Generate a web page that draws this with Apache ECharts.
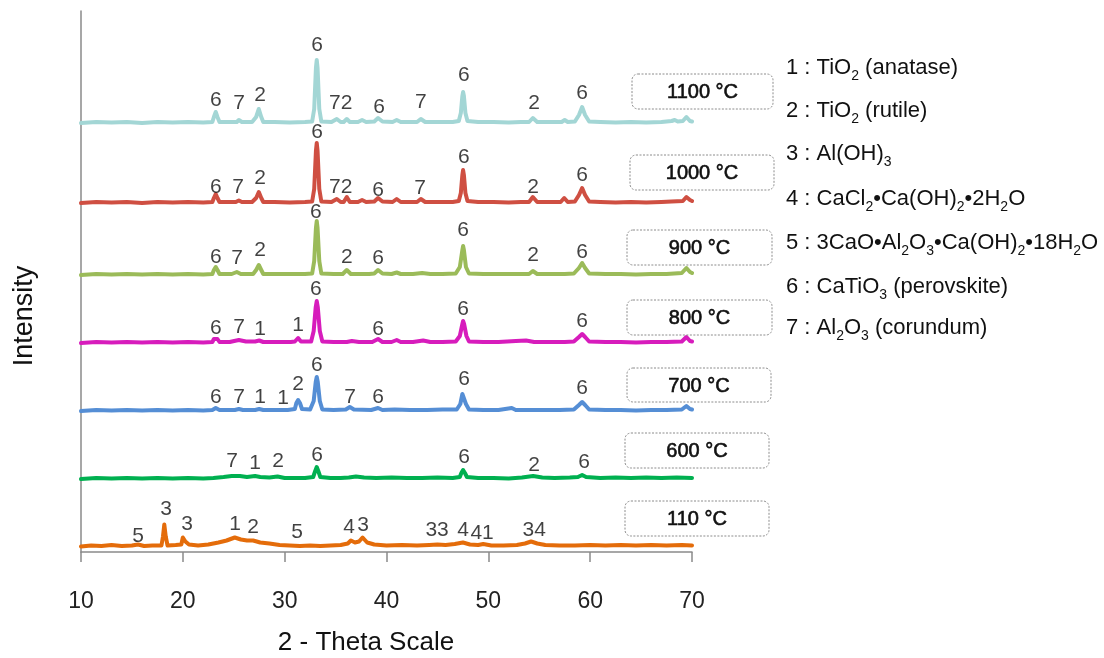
<!DOCTYPE html>
<html>
<head>
<meta charset="utf-8">
<script src="https://cdn.jsdelivr.net/npm/echarts@6/dist/echarts.min.js"></script>
<style>
html,body{margin:0;padding:0;background:#fff;}
#chart{width:1104px;height:658px;}
</style>
</head>
<body>
<div id="chart"></div>
<script>
// ---------- DATA ----------
const xTicks = [10, 20, 30, 40, 50, 60, 70];
const temps = ['110 °C', '600 °C', '700 °C', '800 °C', '900 °C', '1000 °C', '1100 °C'];
// vertical offset (stacking) of each pattern, in intensity units
const offsets = [5.5, 73, 141, 209, 277, 349, 429];

// [2-theta, relative intensity]
const t110 = [[10,0],[11,1],[12,0.5],[13,1.5],[14,0.5],[15,1],[15.6,2],[16.2,0.5],[17,1],[17.9,1],[18.05,10],[18.18,22],[18.32,10],[18.5,1],[19.3,1.5],[19.85,2],[20.0,9],[20.1,11],[20.25,5],[20.6,2],[21.5,1],[22.5,2],[23.5,4],[24.3,6],[25.1,9],[25.7,7],[26.3,6],[26.9,6],[27.6,4],[28.5,3],[29.5,1.5],[30.5,1],[31.5,0.5],[32.5,1],[33.5,0.5],[34.5,1],[35.5,1.5],[36.2,3],[36.5,6],[36.9,4],[37.3,5],[37.65,9],[38.1,4],[38.8,2],[40,1],[41.5,1.5],[43,1],[44.2,1.5],[45,2],[45.8,1.5],[46.7,2.5],[47.5,4],[48.2,2],[49,1.5],[49.5,2.5],[50.3,1],[51.5,1],[52.8,1.5],[53.6,3],[54.2,5],[54.8,3],[55.6,1.5],[57,1],[58.5,1],[60,1.5],[61.5,1],[63,1.5],[64.5,1],[66,1.5],[67.5,1],[69,1.5],[70,1]];
const t600 = [[10,0],[11.5,1],[13,0.5],[14.5,1],[16,0.5],[17.5,1],[19,0.5],[20.5,1],[22,0.5],[23,1],[24,2],[24.8,3],[25.6,3],[26.3,2],[27.09,3],[27.6,2],[28.5,1.5],[29.3,2.5],[30,1],[31,1],[32,1],[32.8,2],[33.0,8],[33.15,12],[33.3,8],[33.5,2],[34.5,1],[35.5,1],[36.3,1.5],[37,2.5],[37.8,1.5],[39,1],[40.5,1.5],[42,1],[43.5,1],[45,1.5],[46.5,1],[47.2,2],[47.35,6],[47.52,9],[47.7,6],[47.9,2],[49,1],[50.5,1],[52,0.5],[53.3,1.5],[54.4,3],[55.3,1.5],[56.5,1],[58,1.5],[58.8,2],[59.21,4],[59.6,2],[61,1],[62.5,1.5],[64,1],[65.5,1.5],[67,1],[68.5,1.5],[70,1]];
const t700 = [[10,0],[11.5,1],[13,0.5],[14.5,1],[16,0.5],[17.5,1],[19,0.5],[20.5,1],[22,0.5],[22.9,1],[23.23,3],[23.6,1],[25.1,1],[25.5,2],[25.9,1],[27.1,1],[27.5,2],[27.9,1],[29,1],[30.3,1],[31.0,2],[31.15,8],[31.32,11],[31.5,8],[31.7,2],[32.5,1.5],[32.85,10],[33.05,29],[33.15,34],[33.25,29],[33.45,10],[33.7,1.5],[34.8,1],[36.0,1.5],[36.4,4],[36.8,1.5],[38.5,1],[39.17,3],[39.6,1],[40.8,1.5],[42.3,1],[44,1],[45.5,1.5],[46.9,1.5],[47.25,7],[47.45,17],[47.52,19],[47.62,17],[47.8,7],[48.1,1.5],[49.5,1],[51,1],[52.3,3],[52.7,1],[54,1],[55.5,1],[57,1],[58.4,1.5],[58.9,6],[59.21,9],[59.5,6],[59.9,1.5],[61.5,1],[63,1],[64.5,0.5],[66,1],[67.5,1],[69,1.5],[69.45,5],[69.8,2],[70,1.5]];
const t800 = [[10,0],[11.5,1],[13,0.5],[14.5,1],[16,0.5],[17.5,1],[19,0.5],[20.5,1],[22,0.5],[22.9,1],[23.05,4],[23.23,6],[23.4,4],[23.6,1],[24.6,1],[25.5,3],[26.2,1.5],[27.1,1.5],[27.5,2.5],[27.9,1],[29.3,1],[30.6,1],[31.0,1.5],[31.32,5],[31.6,1.5],[32.6,1.5],[32.85,12],[33.05,36],[33.15,42],[33.25,36],[33.45,12],[33.7,1.5],[34.8,1],[36.1,1],[36.6,2],[37.3,1],[38.6,1],[39.17,4],[39.6,1],[40.5,1],[41.0,3],[41.4,1],[42.6,1],[43.6,2.5],[44.3,1],[45.5,1],[46.8,1.5],[47.2,7],[47.45,19],[47.52,22],[47.62,19],[47.85,7],[48.1,1.5],[49.5,1],[51,1],[52.7,2],[53.7,2.5],[54.5,1],[56,1],[57.5,1],[58.4,1.5],[58.9,6],[59.21,9],[59.5,6],[59.9,1.5],[61.5,1],[63,1],[64.5,0.5],[66,1],[67.5,1],[69,1.5],[69.45,6],[69.8,2],[70,1.5]];
const t900 = [[10,0],[11.5,1],[13,0.5],[14.5,1],[16,0.5],[17.5,1],[19,0.5],[20.5,1],[22,0.5],[22.9,1],[23.05,5],[23.23,8],[23.4,5],[23.6,1],[24.8,1],[25.3,3],[25.7,1],[26.9,1],[27.2,5],[27.46,10],[27.7,5],[27.9,1],[29.3,1],[30.6,1],[32,1],[32.7,1.5],[32.9,14],[33.07,47],[33.15,54],[33.23,47],[33.4,14],[33.6,1.5],[34.8,1],[35.7,1],[36.1,5],[36.5,1],[38.3,1],[38.8,1.5],[39.17,5],[39.6,1.5],[40.5,1],[41.0,2.5],[41.4,1],[42.6,1],[43.5,2],[44.3,1],[45.5,1],[46.8,1.5],[47.2,8],[47.45,25],[47.52,29],[47.6,25],[47.8,8],[48.1,1.5],[49.5,1],[51,1],[52.5,1],[54,1],[54.37,4],[54.8,1],[56,1],[57.5,1],[58.4,1.5],[58.9,7],[59.21,12],[59.5,7],[59.9,1.5],[61.5,1],[63,1],[64.5,0.5],[66,1],[67.5,1],[69,2],[69.45,7],[69.8,3],[70,2]];
const t1000 = [[10,0],[11.5,1],[13,0.5],[14.5,1],[16,0],[17.5,1],[19,0.5],[20.5,1],[22,0.5],[22.9,1],[23.05,5],[23.23,9],[23.4,5],[23.6,1],[24.5,1],[25.2,1],[25.5,2.5],[25.8,1],[26.8,1],[27.2,5],[27.46,11],[27.7,5],[27.9,1],[29,1],[30.5,0.5],[32,1],[32.7,1.5],[32.9,14],[33.07,52],[33.15,60],[33.23,52],[33.4,14],[33.6,1.5],[34.6,1],[35.12,4],[35.5,1],[35.8,1],[36.1,6],[36.4,1],[37.2,1],[37.6,3],[38,1],[38.8,1.5],[39.17,5],[39.6,1.5],[40.6,1],[41.0,4],[41.4,1],[42.3,1],[43.0,1],[43.37,4],[43.8,1],[45,1],[46.5,1],[47.1,2],[47.3,10],[47.45,28],[47.52,33],[47.6,28],[47.75,10],[47.95,2],[49,1],[50.5,1],[52,0.5],[53.2,1],[54.0,1],[54.37,6],[54.8,1],[56,1],[57.1,1],[57.45,5],[57.8,1],[58.5,1.5],[58.9,8],[59.21,15],[59.5,8],[59.9,1.5],[61,1],[62.5,0.5],[64,1],[65.5,0.5],[67,1],[68,1.5],[69.1,2],[69.45,6],[69.8,3],[70,2]];
const t1100 = [[10,0],[11.5,1],[13,0.5],[14.5,1],[16,0],[17.5,1],[19,0.5],[20.5,1],[22,0.5],[22.9,1],[23.05,6],[23.23,11],[23.4,6],[23.6,1],[24.5,1],[25.3,1],[25.5,3],[25.8,1],[26.8,1],[27.2,6],[27.46,14],[27.7,6],[27.9,1],[29,1],[30.5,0.5],[32,1],[32.7,1.5],[32.9,14],[33.07,55],[33.15,63],[33.23,55],[33.4,14],[33.6,1.5],[34.6,1],[35.12,4],[35.5,1],[35.8,1],[36.1,4],[36.4,1],[37.2,1],[37.6,3],[38,1],[38.8,1.5],[39.17,5],[39.6,1.5],[40.6,1],[41.0,3],[41.4,1],[42.3,1],[43.0,1],[43.37,4],[43.8,1],[45,1],[46.5,1],[47.1,2],[47.3,10],[47.45,27],[47.52,31],[47.6,27],[47.75,10],[47.95,2],[49,1],[50.5,1],[52,0.5],[53.2,1],[54.0,1],[54.37,5],[54.8,1],[56,1],[57.2,1],[57.5,3],[57.8,1],[58.5,1.5],[58.9,8],[59.21,16],[59.5,8],[59.9,1.5],[61,1],[62.5,0.5],[64,1],[65.5,0.5],[67,1],[68,2],[68.3,3],[68.6,1.5],[69.1,2],[69.45,6],[69.8,2],[70,1.5]];

// peak annotations: [2-theta, height above x-axis, phase number]
const lab110 = [[15.6,16,'5'],[18.35,43,'3'],[20.41,28,'3'],[25.13,28,'1'],[26.9,25,'2'],[31.22,20,'5'],[36.33,25,'4'],[37.7,27,'3'],[44.97,22,'33'],[47.52,22,'4'],[49.39,19,'41'],[54.5,22,'34']];
const lab600 = [[24.83,91,'7'],[27.09,89,'1'],[29.35,91,'2'],[33.18,97,'6'],[47.62,95,'6'],[54.5,87,'2'],[59.41,90,'6']];
const lab700 = [[23.23,155,'6'],[25.52,155,'7'],[27.58,155,'1'],[29.84,154,'1'],[31.32,168,'2'],[33.15,187,'6'],[36.42,155,'7'],[39.17,155,'6'],[47.62,173,'6'],[59.21,164,'6']];
const lab800 = [[23.23,224,'6'],[25.52,225,'7'],[27.58,223,'1'],[31.32,227,'1'],[33.05,263,'6'],[39.17,223,'6'],[47.52,243,'6'],[59.21,231,'6']];
const lab900 = [[23.23,295,'6'],[25.32,294,'7'],[27.58,302,'2'],[33.05,340,'6'],[36.1,295,'2'],[39.17,294,'6'],[47.52,322,'6'],[54.4,297,'2'],[59.21,300,'6']];
const lab1000 = [[23.23,365,'6'],[25.42,365,'7'],[27.58,374,'2'],[33.18,420,'6'],[35.51,365,'72'],[39.17,362,'6'],[43.3,364,'7'],[47.6,395,'6'],[54.4,365,'2'],[59.21,377,'6']];
const lab1100 = [[23.23,452,'6'],[25.52,449,'7'],[27.58,457,'2'],[33.18,507,'6'],[35.51,449,'72'],[39.27,445,'6'],[43.37,450,'7'],[47.6,477,'6'],[54.5,449,'2'],[59.21,459,'6']];

// phase key (rich-text segments: t = normal, s = subscript)
const phaseKey = [
  '{t|1 : TiO}{s|2}{t| (anatase)}',
  '{t|2 : TiO}{s|2}{t| (rutile)}',
  '{t|3 : Al(OH)}{s|3}',
  '{t|4 : CaCl}{s|2}{t|•Ca(OH)}{s|2}{t|•2H}{s|2}{t|O}',
  '{t|5 : 3CaO•Al}{s|2}{t|O}{s|3}{t|•Ca(OH)}{s|2}{t|•18H}{s|2}{t|O}',
  '{t|6 : CaTiO}{s|3}{t| (perovskite)}',
  '{t|7 : Al}{s|2}{t|O}{s|3}{t| (corundum)}'
];
const xTitle = '2 - Theta Scale';
const yTitle = 'Intensity';

const traces = [t110, t600, t700, t800, t900, t1000, t1100];
const labelSets = [lab110, lab600, lab700, lab800, lab900, lab1000, lab1100];
const colors = ['#e46c0a', '#00b050', '#558ed5', '#d71cbc', '#9bbb59', '#cf4f42', '#a3d6d5'];

// ---------- CHART ----------
const chart = echarts.init(document.getElementById('chart'));
const FONT = '"Liberation Sans", Arial, sans-serif';

const series = [];
traces.forEach((tr, i) => {
  series.push({
    type: 'line',
    data: tr.map(p => [p[0], p[1] + offsets[i]]),
    showSymbol: false,
    symbol: 'none',
    smooth: false,
    lineStyle: { color: colors[i], width: 4, join: 'round', cap: 'round' },
    animation: false,
    z: 2 + i
  });
});
const allLabels = [];
labelSets.forEach(s => s.forEach(l => allLabels.push(l)));
series.push({
  type: 'scatter',
  data: allLabels.map(l => ({ value: [l[0], l[1]], name: l[2] })),
  symbolSize: 1,
  itemStyle: { color: 'rgba(0,0,0,0)' },
  label: {
    show: true,
    position: 'inside',
    formatter: p => p.name,
    fontFamily: FONT,
    fontSize: 21,
    color: '#111'
  },
  animation: false,
  z: 20
});

// temperature boxes (top to bottom in pixel space)
const boxes = [
  [625, 501, 144, 35], [625, 433, 144, 35], [627, 368, 144, 34], [627, 300, 145, 35],
  [627, 230, 145, 35], [630, 155, 144, 35], [632, 74, 141, 35]
];
const graphic = [];
boxes.forEach((b, i) => {
  graphic.push({
    type: 'rect',
    shape: { x: b[0], y: b[1], width: b[2], height: b[3], r: 6 },
    style: { fill: '#fff', stroke: '#8c8c8c', lineWidth: 1, lineDash: [2, 1.5] },
    z: 100
  });
  graphic.push({
    type: 'text',
    x: b[0] + b[2] / 2,
    y: b[1] + b[3] / 2 + 1,
    style: {
      text: temps[i], fontFamily: FONT, fontSize: 20, fontWeight: 'normal',
      fill: '#111', stroke: '#111', lineWidth: 0.6, align: 'center', verticalAlign: 'middle'
    },
    z: 101
  });
});
const keyY = [68, 111, 154, 199, 243, 287, 328];
phaseKey.forEach((t, i) => {
  graphic.push({
    type: 'text',
    x: 786,
    y: keyY[i] - 15,
    style: {
      text: t,
      fill: '#111',
      rich: {
        t: { fontFamily: FONT, fontSize: 22, lineHeight: 30, verticalAlign: 'middle', fill: '#111' },
        s: { fontFamily: FONT, fontSize: 14, lineHeight: 12, verticalAlign: 'bottom', fill: '#111' }
      }
    },
    z: 101
  });
});
graphic.push({
  type: 'text', x: 366, y: 643,
  style: { text: xTitle, fontFamily: FONT, fontSize: 26, fill: '#111', align: 'center', verticalAlign: 'middle' },
  z: 101
});
graphic.push({
  type: 'text', x: 25, y: 316, rotation: Math.PI / 2,
  style: { text: yTitle, fontFamily: FONT, fontSize: 27, fill: '#111', align: 'center', verticalAlign: 'middle' },
  z: 101
});

chart.setOption({
  animation: false,
  grid: { left: 81, right: 412, top: 11, bottom: 106 },
  xAxis: {
    type: 'value', min: 10, max: 70, interval: 10,
    axisLine: { show: true, lineStyle: { color: '#8a8a8a', width: 1.5 } },
    axisTick: { show: true, length: 10, lineStyle: { color: '#8a8a8a', width: 1.5 } },
    axisLabel: { margin: 38, fontFamily: FONT, fontSize: 23, color: '#222',
      formatter: v => xTicks.indexOf(v) >= 0 ? String(v) : '' },
    splitLine: { show: false }
  },
  yAxis: {
    type: 'value', min: 0, max: 541,
    axisLine: { show: true, lineStyle: { color: '#8a8a8a', width: 1.5 } },
    axisTick: { show: false },
    axisLabel: { show: false },
    splitLine: { show: false }
  },
  series: series,
  graphic: graphic
});
</script>
</body>
</html>
